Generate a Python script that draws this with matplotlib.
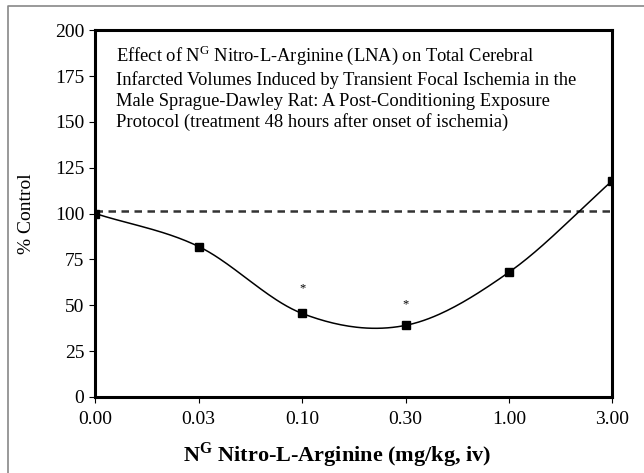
import numpy as np
import matplotlib
matplotlib.use("Agg")
import matplotlib.pyplot as plt
from matplotlib.lines import Line2D

plt.rcParams['font.family'] = ['Liberation Serif', 'DejaVu Serif']
plt.rcParams['mathtext.fontset'] = 'custom'
plt.rcParams['mathtext.rm'] = 'Liberation Serif'
plt.rcParams['mathtext.bf'] = 'Liberation Serif:bold'

doses = ['0.00', '0.03', '0.10', '0.30', '1.00', '3.00']
pct_control = [100, 82, 45.5, 39, 68, 118]
control_level = 101.5
significant = ['0.10', '0.30']
star_heights = [59, 50.5]

title_lines = [
    r"Effect of N$^{\mathrm{G}}$ Nitro-L-Arginine (LNA) on Total Cerebral",
    "Infarcted Volumes Induced by Transient Focal Ischemia in the",
    "Male Sprague-Dawley Rat: A Post-Conditioning Exposure",
    "Protocol (treatment 48 hours after onset of ischemia)",
]


def smooth_curve(ys, steps=40):
    """Catmull-Rom spline through evenly spaced points"""
    ys = np.asarray(ys, dtype=float)
    pad = np.concatenate([[2 * ys[0] - ys[1]], ys, [2 * ys[-1] - ys[-2]]])
    xs_out, ys_out = [], []
    for i in range(len(ys) - 1):
        p0, p1, p2, p3 = pad[i], pad[i + 1], pad[i + 2], pad[i + 3]
        t = np.linspace(0, 1, steps, endpoint=False)
        m1 = (p2 - p0) / 2
        m2 = (p3 - p1) / 2
        h00 = 2 * t**3 - 3 * t**2 + 1
        h10 = t**3 - 2 * t**2 + t
        h01 = -2 * t**3 + 3 * t**2
        h11 = t**3 - t**2
        xs_out.append(i + t)
        ys_out.append(h00 * p1 + h10 * m1 + h01 * p2 + h11 * m2)
    xs_out.append([len(ys) - 1])
    ys_out.append([ys[-1]])
    return np.concatenate(xs_out), np.concatenate(ys_out)


fig = plt.figure(figsize=(6.44, 4.73), dpi=100)
ax = fig.add_axes([0.148, 0.161, 0.803, 0.775])

x = np.arange(len(doses))
ax.axhline(control_level, color='#333333', lw=1.8, ls=(0, (3, 2.2)), zorder=1)

cx, cy = smooth_curve(pct_control)
ax.plot(cx, cy, color='black', lw=1.1, zorder=2)
ax.plot(x, pct_control, ls='none', marker='s', ms=6.3, color='black', zorder=3)

for dose, h in zip(significant, star_heights):
    ax.text(doses.index(dose), h, '*', ha='center', va='center', fontsize=9)

ax.set_xlim(0, len(doses) - 1)
ax.set_ylim(0, 200)
ax.set_xticks(x)
ax.set_xticklabels(doses)
ax.set_yticks(np.arange(0, 201, 25))
ax.tick_params(labelsize=14, length=4, width=0.8, direction='out', pad=6)
ax.tick_params(axis='y', pad=4)
for s in ax.spines.values():
    s.set_linewidth(2.2)

ax.set_ylabel('% Control', fontsize=14, labelpad=14)
ax.set_xlabel(r"N$^{\mathbf{G}}$ Nitro-L-Arginine (mg/kg, iv)", fontsize=16,
              fontweight='bold', labelpad=9)
ax.xaxis.label.set_x(0.467)

ax.text(0.04, 0.962, "\n".join(title_lines), transform=ax.transAxes,
        ha='left', va='top', fontsize=13.3, linespacing=1.27)

# thin grey frame along the top and left edges of the figure
fig.lines.append(Line2D([8 / 644, 8 / 644, 1.0], [0.0, 1 - 6 / 473, 1 - 6 / 473],
                        transform=fig.transFigure, color='#888888', lw=1.2))

fig.savefig('out.png', dpi=100)
